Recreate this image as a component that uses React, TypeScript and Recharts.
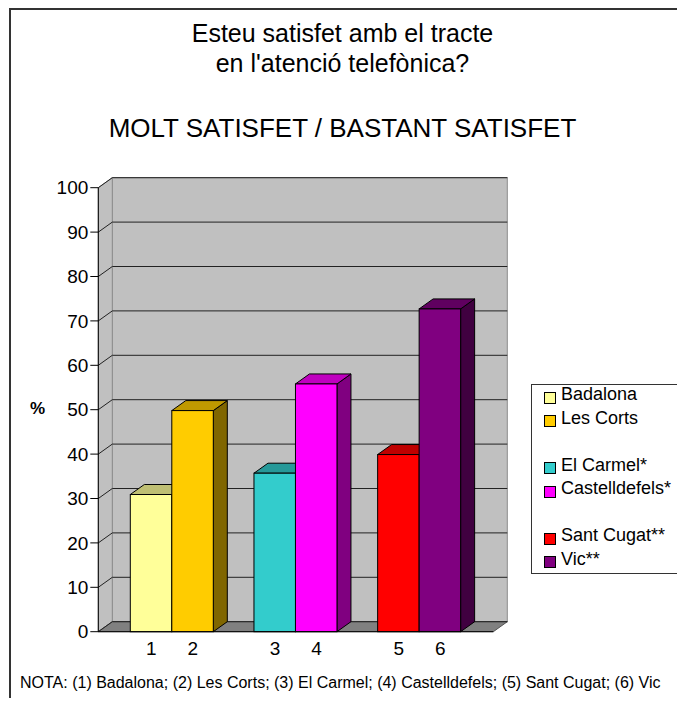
import React from 'react';
import { BarChart, Bar, XAxis, YAxis, CartesianGrid, ReferenceArea, Legend, Cell } from 'recharts';

const GROUPS = ['g1', 'g2', 'g3'];
const LEFT_NAMES = ['Badalona', 'El Carmel*', 'Sant Cugat**'];
const RIGHT_NAMES = ['Les Corts', 'Castelldefels*', 'Vic**'];
const LEFT_VALUES = [30.9, 35.7, 39.9];
const RIGHT_VALUES = [49.8, 55.8, 72.7];
const LEFT_TICKS = ['1', '3', '5'];
const RIGHT_TICKS = ['2', '4', '6'];
const Y_TICKS = [0, 10, 20, 30, 40, 50, 60, 70, 80, 90, 100];

const LEFT_COLORS = ['#FFFF99', '#33CCCC', '#FF0000'];
const RIGHT_COLORS = ['#FFCC00', '#FF00FF', '#800080'];

const FONT = '"Liberation Sans", Arial, Helvetica, sans-serif';
const DX = 14;
const DY = 10;
const PAD = 12;
const BAR = 41.5;

const data = GROUPS.map((g, i) => ({ group: g, left: LEFT_VALUES[i], right: RIGHT_VALUES[i] }));

const shade = (hex: string, f: number) => {
  const n = parseInt(hex.slice(1), 16);
  const r = Math.round(((n >> 16) & 255) * f);
  const g = Math.round(((n >> 8) & 255) * f);
  const b = Math.round((n & 255) * f);
  return `rgb(${r},${g},${b})`;
};

const Bar3D = (props: any) => {
  const { x, y, width, height, fill } = props;
  if (!height || height <= 0) return null;
  const top = `M${x},${y} L${x + DX},${y - DY} L${x + width + DX},${y - DY} L${x + width},${y} Z`;
  const side = `M${x + width},${y} L${x + width + DX},${y - DY} L${x + width + DX},${y + height - DY} L${x + width},${y + height} Z`;
  return (
    <g>
      <path d={side} fill={shade(fill, 0.5)} stroke="#000" strokeWidth={1} />
      <path d={top} fill={shade(fill, 0.75)} stroke="#000" strokeWidth={1} />
      <rect x={x} y={y} width={width} height={height} fill={fill} stroke="#000" strokeWidth={1} />
    </g>
  );
};

const Walls = (props: any) => {
  const { x, y, width, height } = props;
  const left = x - PAD;
  const right = x + width + PAD;
  const bottom = y + height;
  return (
    <g>
      <rect x={left + DX} y={y - DY} width={right - left} height={height} fill="#C0C0C0" stroke="#8c8c8c" />
      <path
        d={`M${left},${y} L${left + DX},${y - DY} L${left + DX},${bottom - DY} L${left},${bottom} Z`}
        fill="#C0C0C0"
        stroke="#8c8c8c"
      />
      <path
        d={`M${left},${bottom} L${left + DX},${bottom - DY} L${right + DX},${bottom - DY} L${right},${bottom} Z`}
        fill="#808080"
        stroke="#555"
      />
    </g>
  );
};

const GridLine = (p: any) => {
  const { x1, y1, x2 } = p;
  return (
    <g key={p.key}>
      <line x1={x1} y1={y1} x2={x1 + DX} y2={y1 - DY} stroke="#222" strokeWidth={1} />
      <line x1={x1 + DX} y1={y1 - DY} x2={x2 + DX} y2={y1 - DY} stroke="#222" strokeWidth={1} />
    </g>
  );
};

const PairTick = (p: any) => {
  const { x, y, index } = p;
  return (
    <g>
      <text x={x - BAR / 2} y={y + 15} textAnchor="middle" fontSize={19} fontFamily={FONT} fill="#000">
        {LEFT_TICKS[index]}
      </text>
      <text x={x + BAR / 2} y={y + 15} textAnchor="middle" fontSize={19} fontFamily={FONT} fill="#000">
        {RIGHT_TICKS[index]}
      </text>
    </g>
  );
};

const LegendBox = () => {
  const rows: { name: string; color: string }[][] = GROUPS.map((_, i) => [
    { name: LEFT_NAMES[i], color: LEFT_COLORS[i] },
    { name: RIGHT_NAMES[i], color: RIGHT_COLORS[i] },
  ]);
  return (
    <div
      style={{
        width: 148,
        height: 190,
        border: '1px solid #333',
        boxSizing: 'border-box',
        background: '#fff',
        fontFamily: FONT,
        fontSize: 18,
      }}
    >
      {rows.map((pair, gi) => (
        <div key={gi} style={{ marginBottom: 23.5 }}>
          {pair.map((it) => (
            <div key={it.name} style={{ height: 23.5, display: 'flex', alignItems: 'center', whiteSpace: 'nowrap', marginTop: gi === 0 && it.name === pair[0].name ? -2 : 0 }}>
              <span
                style={{
                  display: 'inline-block',
                  width: 10,
                  height: 10,
                  background: it.color,
                  border: '1px solid #000',
                  marginLeft: 12,
                  marginRight: 5,
                  marginTop: 6,
                }}
              />
              <span>{it.name}</span>
            </div>
          ))}
        </div>
      ))}
    </div>
  );
};

export default function App() {
  return (
    <div style={{ position: 'relative', width: 685, height: 706, margin: -8, background: '#fff', overflow: 'hidden' }}>
      <div
        style={{
          position: 'absolute',
          left: 9,
          top: 8,
          width: 690,
          height: 710,
          borderTop: '2px solid #333',
          borderLeft: '2px solid #333',
        }}
      />
      <BarChart
        width={685}
        height={706}
        data={data}
        margin={{ top: 187.7, right: 191.7, bottom: 44.3, left: 38.3 }}
        barGap={0}
        barSize={BAR}
        style={{ position: 'absolute', left: 0, top: 0 }}
      >
        <ReferenceArea y1={0} y2={100} shape={Walls} ifOverflow="visible" zIndex={-500} />
        <CartesianGrid vertical={false} horizontal={GridLine} />
        <XAxis
          dataKey="group"
          padding={{ left: PAD, right: PAD }}
          axisLine={{ stroke: '#000' }}
          tickLine={false}
          tick={PairTick}
          height={30}
          interval={0}
        />
        <YAxis
          domain={[0, 100]}
          ticks={Y_TICKS}
          width={60}
          axisLine={{ stroke: '#000' }}
          tickLine={{ stroke: '#000' }}
          tickSize={8}
          tickMargin={2}
          tick={{ fill: '#000', fontSize: 19, fontFamily: FONT }}
          interval={0}
        />
        <Legend
          layout="vertical"
          align="center"
          verticalAlign="middle"
          content={<LegendBox />}
          wrapperStyle={{ left: 531, top: 384, width: 148 }}
        />
        <Bar dataKey="left" isAnimationActive={false} shape={Bar3D}>
          {LEFT_COLORS.map((c, i) => (
            <Cell key={i} fill={c} />
          ))}
        </Bar>
        <Bar dataKey="right" isAnimationActive={false} shape={Bar3D}>
          {RIGHT_COLORS.map((c, i) => (
            <Cell key={i} fill={c} />
          ))}
        </Bar>
      </BarChart>
      <div style={{ position: 'absolute', left: 0, width: 685, top: 21, textAlign: 'center', fontFamily: FONT, fontSize: 25, lineHeight: '25px' }}>
        Esteu satisfet amb el tracte
      </div>
      <div style={{ position: 'absolute', left: 0, width: 685, top: 50.5, textAlign: 'center', fontFamily: FONT, fontSize: 25, lineHeight: '25px' }}>
        en l'atenció telefònica?
      </div>
      <div style={{ position: 'absolute', left: 0, width: 685, top: 114.5, textAlign: 'center', fontFamily: FONT, fontSize: 26, lineHeight: '26px' }}>
        MOLT SATISFET / BASTANT SATISFET
      </div>
      <div style={{ position: 'absolute', left: 30, top: 400, fontFamily: FONT, fontSize: 17, fontWeight: 'bold', lineHeight: '17px' }}>
        %
      </div>
      <div style={{ position: 'absolute', left: 20, top: 674.5, fontFamily: FONT, fontSize: 16, lineHeight: '16px', whiteSpace: 'nowrap' }}>
        NOTA: (1) Badalona; (2) Les Corts; (3) El Carmel; (4) Castelldefels; (5) Sant Cugat; (6) Vic
      </div>
    </div>
  );
}
